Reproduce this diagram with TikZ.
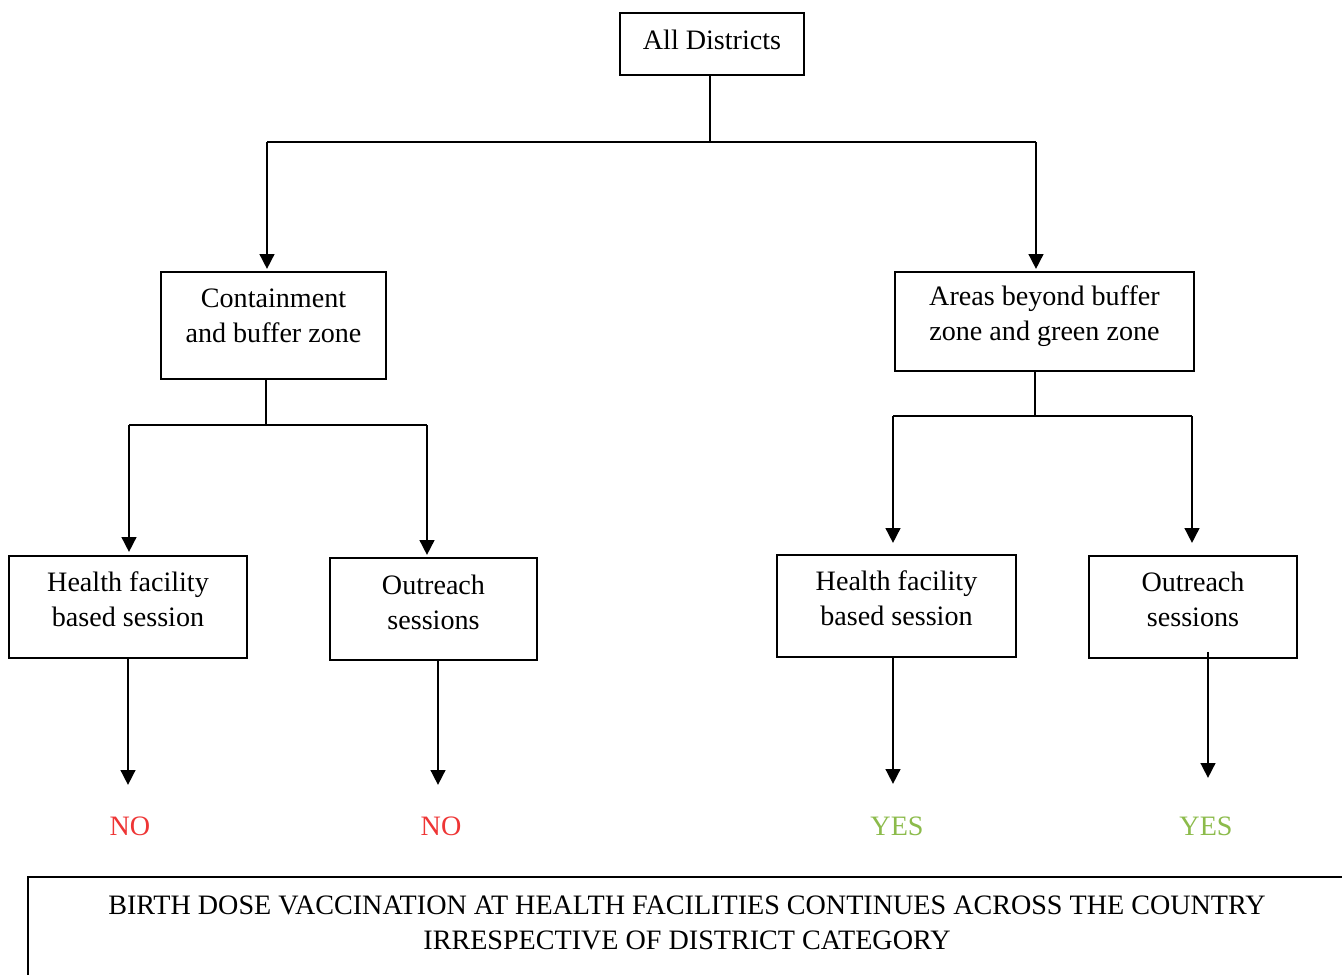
\documentclass[tikz,border=0pt]{standalone}
\usepackage{fontspec}
\setmainfont{Liberation Serif}
\usetikzlibrary{arrows.meta}

\definecolor{noRed}{HTML}{EE3535}
\definecolor{yesGreen}{HTML}{8CBB4B}

\begin{document}
\begin{tikzpicture}[x=0.02cm, y=-0.02cm,
    box/.style={draw, line width=1.1pt, align=center, inner sep=0pt,
                font=\fontsize{16}{19.9}\selectfont},
    lift/.style={text depth=#1},
    link/.style={line width=0.8pt},
    arr/.style={line width=1.6pt, -{Triangle[length=0.3cm, width=0.29cm]}},
    answer/.style={font=\fontsize{16}{19}\selectfont}]
    \useasboundingbox (0,0) rectangle (1342,974);
    \clip (0,0) rectangle (1342,974);

    % boxes
    \node[box, lift=0.16cm, minimum width=184*0.02cm, minimum height=62*0.02cm] (all) at (712,44) {All Districts};
    \node[box, lift=0.4cm, minimum width=225*0.02cm, minimum height=107*0.02cm] (cbz) at (273.5,325.5) {Containment\\and buffer zone};
    \node[box, lift=0.35cm, minimum width=299*0.02cm, minimum height=99*0.02cm] (abz) at (1044.5,321.5) {Areas beyond buffer\\zone and green zone};
    \node[box, lift=0.32cm, minimum width=238*0.02cm, minimum height=102*0.02cm] (hfl) at (128,607) {Health facility\\based session};
    \node[box, lift=0.28cm, minimum width=207*0.02cm, minimum height=102*0.02cm] (osl) at (433.5,609) {Outreach\\sessions};
    \node[box, lift=0.32cm, minimum width=239*0.02cm, minimum height=102*0.02cm] (hfr) at (896.5,606) {Health facility\\based session};
    \node[box, lift=0.32cm, minimum width=208*0.02cm, minimum height=102*0.02cm] (osr) at (1193,607) {Outreach\\sessions};

    % branch points
    \coordinate (s0) at (710,142);
    \coordinate (s1) at (266,425);
    \coordinate (s2) at (1035,416);
    \coordinate (b0l) at (267,142);
    \coordinate (b0r) at (1036,142);
    \coordinate (b1l) at (129,425);
    \coordinate (b1r) at (427,425);
    \coordinate (b2l) at (893,416);
    \coordinate (b2r) at (1192,416);

    % All Districts -> zones
    \draw[link] (all.south -| s0) -- (s0);
    \draw[link] (b0l) -- (b0r);
    \draw[arr] (b0l) -- ([yshift=0.04cm]b0l |- cbz.north);
    \draw[arr] (b0r) -- ([yshift=0.04cm]b0r |- abz.north);

    % Containment -> sessions
    \draw[link] (cbz.south -| s1) -- (s1);
    \draw[link] (b1l) -- (b1r);
    \draw[arr] (b1l) -- ([yshift=0.06cm]b1l |- hfl.north);
    \draw[arr] (b1r) -- ([yshift=0.04cm]b1r |- osl.north);

    % Areas beyond -> sessions
    \draw[link] (abz.south -| s2) -- (s2);
    \draw[link] (b2l) -- (b2r);
    \draw[arr] (b2l) -- ([yshift=0.22cm]b2l |- hfr.north);
    \draw[arr] (b2r) -- ([yshift=0.24cm]b2r |- osr.north);

    % answers
    \node[answer, text=noRed] (nol) at (130,826) {NO};
    \node[answer, text=noRed] (nor) at (441,826) {NO};
    \node[answer, text=yesGreen] (yesl) at (897,826) {YES};
    \node[answer, text=yesGreen] (yesr) at (1206,826) {YES};
    \coordinate (t1) at (128,785);
    \coordinate (t2) at (438,785);
    \coordinate (t3) at (893,784);
    \coordinate (t4) at (1208,778);
    \draw[arr] (hfl.south -| t1) -- (t1);
    \draw[arr] (osl.south -| t2) -- (t2);
    \draw[arr] (hfr.south -| t3) -- (t3);
    \draw[arr] ([yshift=0.14cm]osr.south -| t4) -- (t4);

    % note at the bottom
    \draw[line width=1.1pt] (28,1010) -- (28,877) -- (1380,877);
    \node[align=center, font=\fontsize{16}{19.9}\selectfont] (note) at (687,922.5)
        {BIRTH DOSE VACCINATION AT HEALTH FACILITIES CONTINUES ACROSS THE COUNTRY\\
         IRRESPECTIVE OF DISTRICT CATEGORY};
\end{tikzpicture}
\end{document}
